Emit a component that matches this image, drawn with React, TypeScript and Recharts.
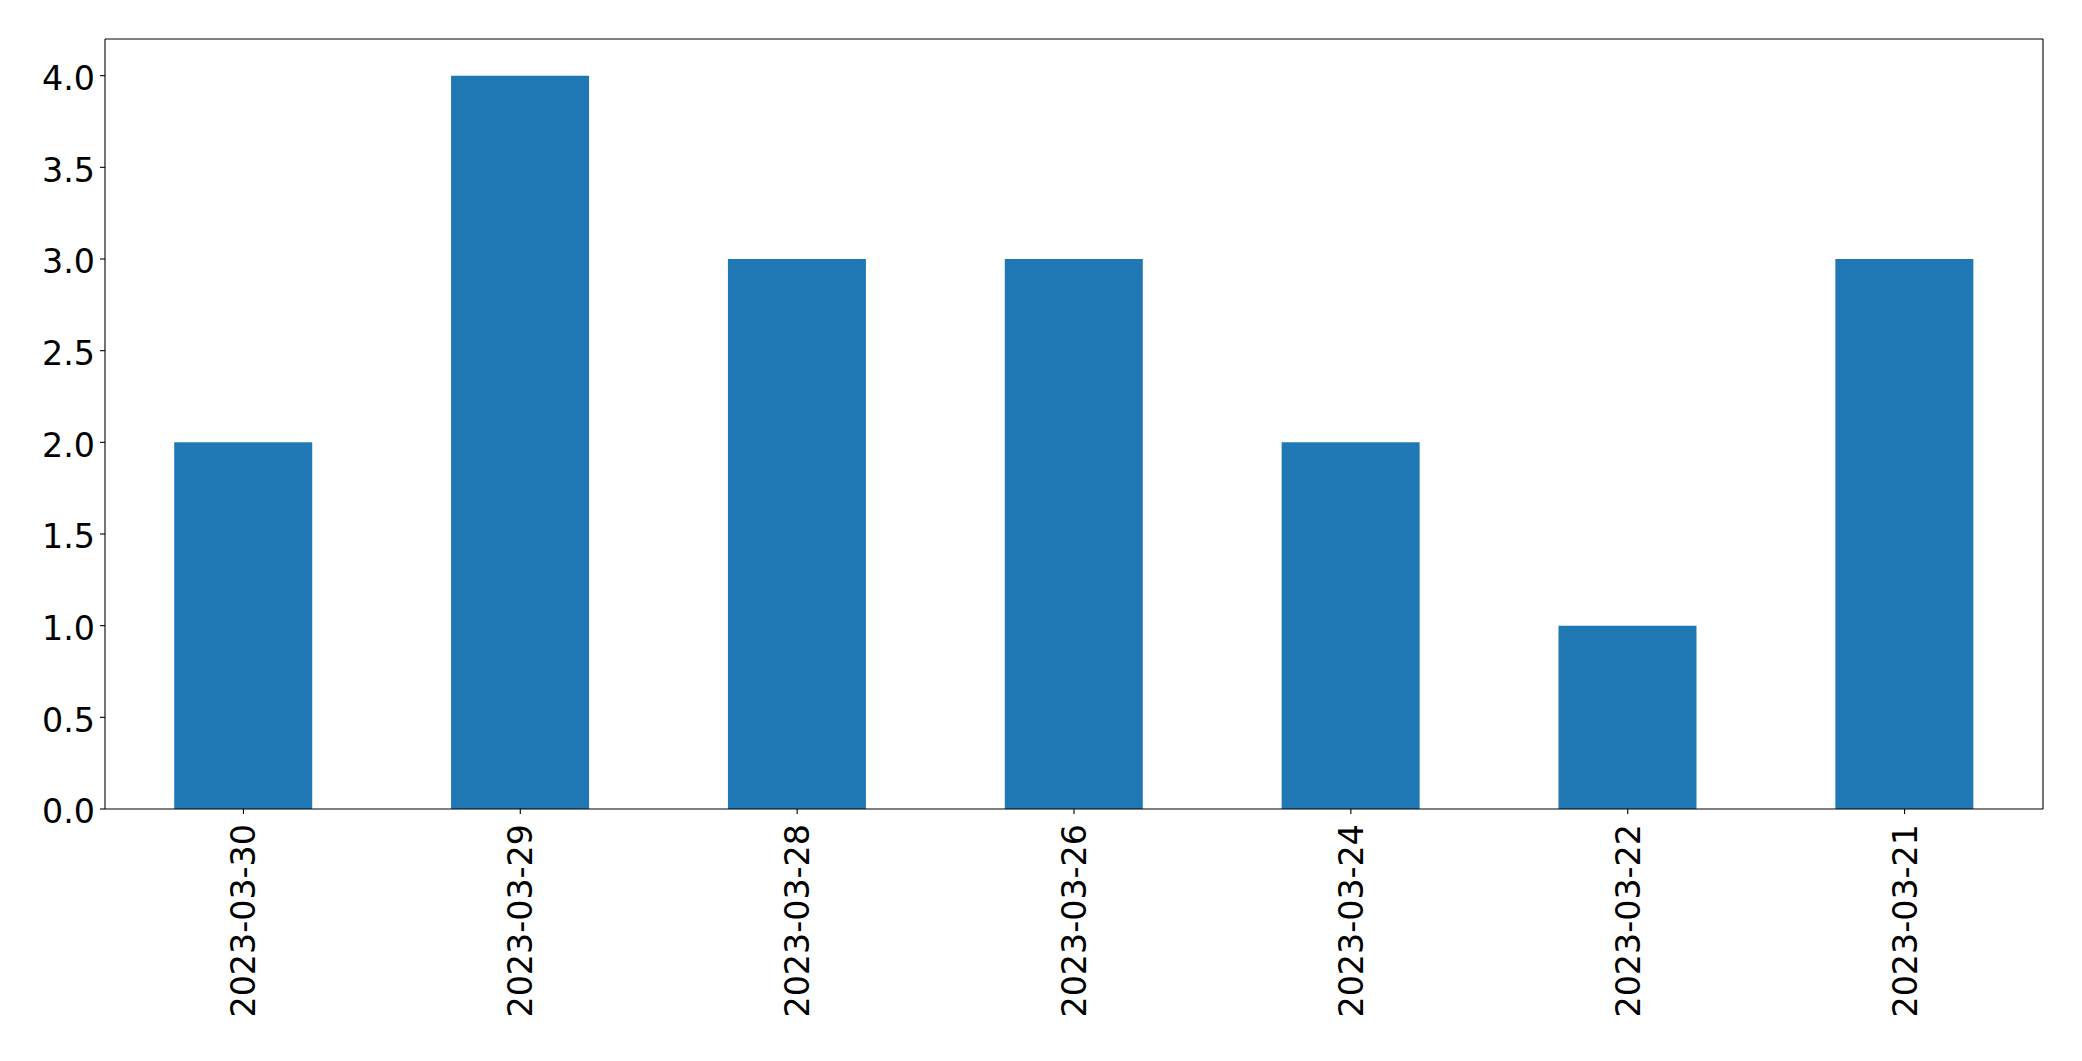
import React from 'react';
import { BarChart, Bar, XAxis, YAxis } from 'recharts';

const categories = ['2023-03-30', '2023-03-29', '2023-03-28', '2023-03-26', '2023-03-24', '2023-03-22', '2023-03-21'];
const counts = [2, 4, 3, 3, 2, 1, 3];
const yTicks = [0, 0.5, 1, 1.5, 2, 2.5, 3, 3.5, 4];

const data = categories.map((c, i) => ({ date: c, value: counts[i] }));

const FONT = 'DejaVu Sans';
const FS = 33.3;

const XTick = (props: any) => {
  const { x, y, payload } = props;
  return (
    <g>
      <text
        x={x}
        y={y}
        transform={`rotate(-90, ${x}, ${y})`}
        textAnchor="end"
        dy="0.36em"
        fontFamily={FONT}
        fontSize={FS}
        fill="#000"
      >
        {payload.value}
      </text>
    </g>
  );
};

const YTick = (props: any) => {
  const { x, y, payload } = props;
  return (
    <text
      x={x}
      y={y + 14.3}
      textAnchor="end"
      fontFamily={FONT}
      fontSize={FS}
      fill="#000"
    >
      {Number(payload.value).toFixed(1)}
    </text>
  );
};

export default function App() {
  return (
    <div style={{ position: 'absolute', left: 0, top: 0, width: 2082, height: 1061, background: '#fff' }}>
      <BarChart
        width={2082}
        height={1061}
        data={data}
        margin={{ top: 38, right: 38, bottom: 0, left: 0 }}
        barCategoryGap="25%"
      >
        <XAxis
          xAxisId="bottom"
          dataKey="date"
          tick={<XTick />}
          tickSize={5}
          tickMargin={10}
          height={252}
          axisLine={{ stroke: '#000', strokeWidth: 1.1 }}
          tickLine={{ stroke: '#000', strokeWidth: 1.1 }}
          interval={0}
        />
        <XAxis
          xAxisId="top"
          orientation="top"
          dataKey="date"
          tick={false}
          tickLine={false}
          height={1}
          axisLine={{ stroke: '#000', strokeWidth: 1.1 }}
        />
        <YAxis
          yAxisId="left"
          domain={[0, 4.2]}
          ticks={yTicks}
          width={105}
          tickSize={5}
          tickMargin={5}
          tick={<YTick />}
          axisLine={{ stroke: '#000', strokeWidth: 1.1 }}
          tickLine={{ stroke: '#000', strokeWidth: 1.1 }}
          allowDataOverflow
        />
        <YAxis
          yAxisId="right"
          orientation="right"
          domain={[0, 4.2]}
          tick={false}
          tickLine={false}
          width={1}
          axisLine={{ stroke: '#000', strokeWidth: 1.1 }}
        />
        <Bar dataKey="value" xAxisId="bottom" yAxisId="left" fill="#1f77b4" isAnimationActive={false} />
      </BarChart>
    </div>
  );
}
